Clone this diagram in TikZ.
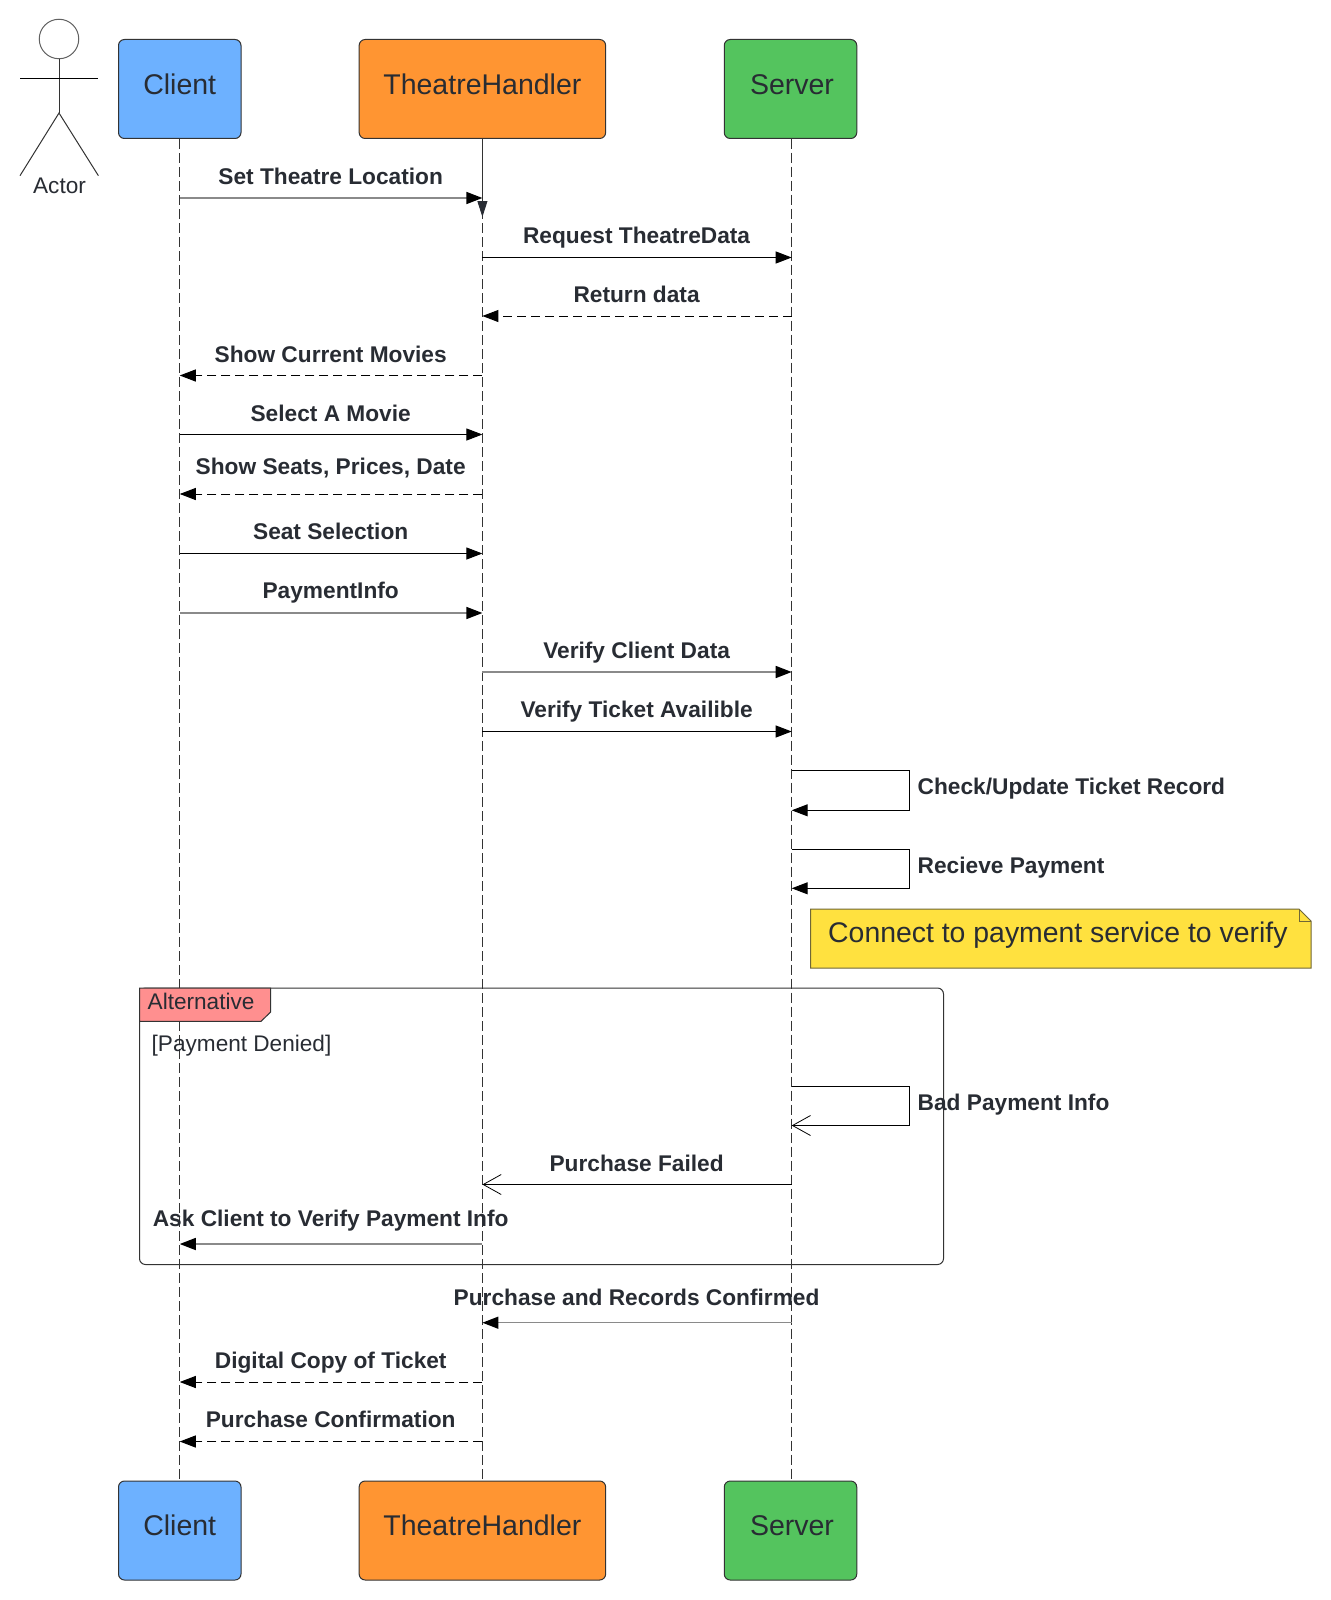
\documentclass[tikz,border=0pt]{standalone}
\usepackage{fontspec}
\setmainfont{Liberation Sans}
\usetikzlibrary{arrows.meta,calc}
\definecolor{ink}{HTML}{282C33}
\definecolor{wire}{HTML}{333333}
\definecolor{softwire}{HTML}{8A8A8A}
\definecolor{clientblue}{HTML}{6DB1FF}
\definecolor{handlerorange}{HTML}{FF9532}
\definecolor{servergreen}{HTML}{54C45E}
\definecolor{altred}{HTML}{FF8F8F}
\definecolor{noteyellow}{HTML}{FFE13F}
\tikzset{
  txt/.style={inner sep=0pt,text=ink,text height=0.72em,text depth=0.21em},
  boxlabel/.style={txt,font=\fontsize{28.5}{34}\selectfont},
  msglabel/.style={txt,font=\bfseries\fontsize{22.7}{26}\selectfont},
  plainlabel/.style={txt,font=\fontsize{22.6}{26}\selectfont},
  lifebox/.style={draw=wire,line width=1pt,rounded corners=6pt,minimum height=99pt,inner sep=0pt},
  lifeline/.style={draw=wire,line width=1pt,dash pattern=on 10pt off 4pt},
  solidmsg/.style={draw=black,line width=1pt,-{Triangle[length=16pt,width=12pt]}},
  softmsg/.style={draw=softwire,line width=1.5pt,-{Triangle[length=16pt,width=12pt,color=black]}},
  dashmsg/.style={draw=black,line width=1pt,dash pattern=on 9pt off 5pt,-{Triangle[length=16pt,width=12pt]}},
  openmsg/.style={draw=black,line width=1pt,-{Straight Barb[length=18pt,width=20pt,line width=0.8pt]}},
}
\newcommand{\msg}[8]{%
  \coordinate (m#1) at (0,#2);
  \draw[#5] (#3 |- m#1) -- (#4 |- m#1);
  \node[msglabel] (lab#1) at (#6,#7) {#8};
}
\newcommand{\selfmsg}[5]{%
  \coordinate (sa#1) at (909.5,#2);
  \coordinate (sb#1) at (909.5,#3);
  \draw[#4] (sl |- sa#1) -- (sa#1) -- (sb#1) -- (sl |- sb#1);
  \node[msglabel,anchor=west] (slab#1) at (917.5,{(#2+#3)/2+2}) {#5};
}
\begin{document}
\begin{tikzpicture}[x=1pt,y=-1pt]
\useasboundingbox (0,0) rectangle (1330,1600);
\fill[white] (0,0) rectangle (1330,1600);

% lifeline heads and feet
\node[lifebox,fill=clientblue,minimum width=122.5pt] (ct) at (179.75,89) {};
\node[lifebox,fill=handlerorange,minimum width=246.5pt] (tt) at (482.4,89) {};
\node[lifebox,fill=servergreen,minimum width=132.5pt] (st) at (790.5,89) {};
\node[lifebox,fill=clientblue,minimum width=122.5pt] (cb) at (179.75,1530.5) {};
\node[lifebox,fill=handlerorange,minimum width=246.5pt] (tb) at (482.4,1530.5) {};
\node[lifebox,fill=servergreen,minimum width=132.5pt] (sb) at (790.5,1530.5) {};
\node[boxlabel] (ctl) at (179.75,91.5) {Client};
\node[boxlabel] (ttl) at (482.4,91.5) {TheatreHandler};
\node[boxlabel] (stl) at (792,91.5) {Server};
\node[boxlabel] (cbl) at (179.75,1533) {Client};
\node[boxlabel] (tbl) at (482.4,1533) {TheatreHandler};
\node[boxlabel] (sbl) at (792,1533) {Server};

% lifelines
\coordinate (sl) at (791.7,138.5);
\coordinate (slb) at (791.7,1481);
\draw[lifeline] (ct.south) -- (cb.north);
\draw[lifeline] (tt.south) -- (tb.north);
\draw[lifeline] (sl) -- (slb);

% actor
\node[draw=softwire!70!black,line width=1pt,inner sep=0pt,circle,minimum size=39.5pt] (head) at (59,39) {};
\coordinate (armL) at (20,78.3);
\coordinate (armR) at (98.4,78.3);
\coordinate (hip) at (59,113);
\coordinate (legL) at (20,175.7);
\coordinate (legR) at (98.4,175.7);
\draw[draw=wire,line width=1pt] (head.south) -- (hip);
\draw[draw=black,line width=1pt] (armL) -- (armR);
\draw[draw=wire,line width=1pt] (legL) -- (hip) -- (legR);
\node[plainlabel] (actorlabel) at (59.5,191) {Actor};

% activation arrow on TheatreHandler
\coordinate (actEnd) at ($(tt.south)+(0,78)$);
\draw[draw=wire,line width=1pt,-{Triangle[length=16pt,width=10pt,color=ink]}] (tt.south) -- (actEnd);

% messages
\msg{1}{198}{ct.south}{tt.south}{softmsg}{330.7}{181.6}{Set Theatre Location}
\msg{2}{257.5}{tt.south}{sl}{solidmsg}{636.6}{240.5}{Request TheatreData}
\msg{3}{316}{sl}{tt.south}{dashmsg}{636.6}{299.5}{Return data}
\msg{4}{375.5}{tt.south}{ct.south}{dashmsg}{330.7}{359.6}{Show Current Movies}
\msg{5}{434.5}{ct.south}{tt.south}{solidmsg}{330.7}{418.5}{Select A Movie}
\msg{6}{494}{tt.south}{ct.south}{dashmsg}{330.7}{472}{Show Seats, Prices, Date}
\msg{7}{553.5}{ct.south}{tt.south}{solidmsg}{330.7}{537}{Seat Selection}
\msg{8}{613}{ct.south}{tt.south}{softmsg}{330.7}{596}{PaymentInfo}
\msg{9}{672}{tt.south}{sl}{softmsg}{636.6}{656}{Verify Client Data}
\msg{10}{731.5}{tt.south}{sl}{solidmsg}{636.6}{715}{Verify Ticket Availible}

% self messages
\selfmsg{1}{770.3}{810.3}{solidmsg}{Check/Update Ticket Record}
\selfmsg{2}{849.3}{888.3}{solidmsg}{Recieve Payment}

% note
\coordinate (nTL) at (810.5,909);
\coordinate (nFoldA) at (1299,909);
\coordinate (nFoldB) at (1311,921);
\coordinate (nBR) at (1311,968);
\coordinate (nBL) at (810.5,968);
\coordinate (nFoldC) at (1299,921);
\draw[draw=wire!70!noteyellow,fill=noteyellow,line width=1pt] (nTL) -- (nFoldA) -- (nFoldB) -- (nBR) -- (nBL) -- cycle;
\draw[draw=wire!70!noteyellow,line width=1pt] (nFoldA) -- (nFoldC) -- (nFoldB);
\node[txt,anchor=west,font=\fontsize{28.4}{32}\selectfont] (notetext) at (828,940) {Connect to payment service to verify};

% alternative frame
\draw[draw=wire,line width=1pt,rounded corners=6pt] (139.5,988) rectangle (943.5,1264.5);
\coordinate (tA) at (139.5,988);
\coordinate (tB) at (270.7,988);
\coordinate (tC) at (270.7,1012);
\coordinate (tD) at (261,1021.3);
\coordinate (tE) at (139.5,1021.3);
\draw[draw=wire,fill=altred,line width=1pt] (tE) -- (tA) -- (tB) -- (tC) -- (tD) -- cycle;
\node[plainlabel,anchor=west] (altlabel) at (147.5,1007) {Alternative};
\node[plainlabel,anchor=west] (altguard) at (151.5,1048.5) {[Payment Denied]};

\selfmsg{3}{1086}{1125.5}{openmsg}{Bad Payment Info}
\msg{11}{1184.5}{sl}{tt.south}{openmsg}{636.6}{1168.5}{Purchase Failed}
\msg{12}{1244}{tt.south}{ct.south}{softmsg}{330.7}{1223.5}{Ask Client to Verify Payment Info}
\msg{13}{1322.7}{sl}{tt.south}{softmsg}{636.6}{1303}{Purchase and Records Confirmed}
\msg{14}{1382}{tt.south}{ct.south}{dashmsg}{330.7}{1365.5}{Digital Copy of Ticket}
\msg{15}{1441.5}{tt.south}{ct.south}{dashmsg}{330.7}{1425}{Purchase Confirmation}
\end{tikzpicture}
\end{document}
